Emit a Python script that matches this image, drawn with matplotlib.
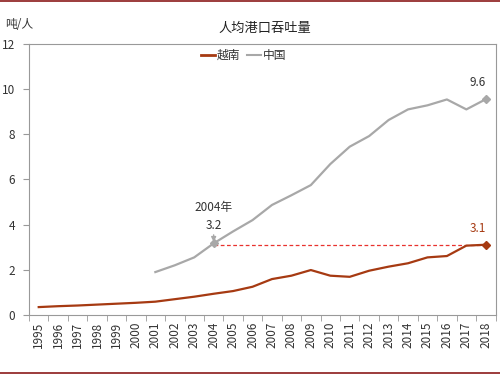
import numpy as np
import matplotlib
matplotlib.use('Agg')
import matplotlib.pyplot as plt
from matplotlib.lines import Line2D

plt.rcParams['font.family'] = ['Noto Sans CJK SC', 'DejaVu Sans']

# data
years = list(range(1995, 2019))
vietnam = [0.35, 0.39, 0.42, 0.46, 0.50, 0.54, 0.59, 0.70, 0.81, 0.94, 1.06, 1.25,
           1.59, 1.74, 1.99, 1.74, 1.69, 1.96, 2.14, 2.29, 2.55, 2.61, 3.07, 3.11]
china_years = list(range(2001, 2019))
china = [1.9, 2.2, 2.55, 3.17, 3.7, 4.2, 4.87, 5.3, 5.75, 6.68, 7.45, 7.92,
         8.63, 9.1, 9.28, 9.54, 9.1, 9.55]
yticks = [0, 2, 4, 6, 8, 10, 12]

VN_COLOR = '#A63A12'
CN_COLOR = '#A8A8A8'

fig = plt.figure(figsize=(5, 3.75), dpi=100)
ax = fig.add_axes([0.058, 0.16, 0.933, 0.723])

x_vn = np.arange(len(years))
x_cn = np.array([years.index(y) for y in china_years])

ax.plot(x_vn, vietnam, color=VN_COLOR, lw=1.6, label='越南')
ax.plot(x_cn, china, color=CN_COLOR, lw=1.6, label='中国')

# end / highlight markers
ax.plot(x_vn[-1], vietnam[-1], marker='D', ms=4, color=VN_COLOR)
ax.plot(x_cn[-1], china[-1], marker='D', ms=4, color=CN_COLOR)
i04 = china_years.index(2004)
ax.plot(x_cn[i04], china[i04], marker='D', ms=4, color=CN_COLOR)

# dashed reference line from China 2004 to Vietnam 2018
ax.plot([x_cn[i04], x_vn[-1]], [vietnam[-1], vietnam[-1]], ls=(0, (3, 2)),
        color='#E8322E', lw=0.9, zorder=1)

# labels
ax.annotate('2004年\n3.2', xy=(x_cn[i04], china[i04]),
            xytext=(x_cn[i04], china[i04] + 0.5), ha='center', va='bottom',
            fontsize=8.5, color='#333333', linespacing=1.5,
            arrowprops=dict(arrowstyle='-|>', color=CN_COLOR, lw=1,
                            shrinkA=0, shrinkB=1, mutation_scale=7))
ax.text(x_cn[-1], china[-1] + 0.45, '9.6', ha='right', va='bottom',
        fontsize=8.5, color='#333333')
ax.text(x_vn[-1], vietnam[-1] + 0.45, '3.1', ha='right', va='bottom',
        fontsize=8.5, color=VN_COLOR)

ax.set_xlim(-0.5, len(years) - 0.5)
ax.set_ylim(0, 12)
ax.set_yticks(yticks)
ax.set_yticklabels([str(v) for v in yticks], fontsize=8.5, color='#333333')
ax.set_xticks(x_vn)
ax.set_xticklabels([str(y) for y in years], rotation=90, fontsize=8.5,
                   color='#333333')
ax.set_xticks(np.arange(-0.5, len(years)), minor=True)
ax.tick_params(axis='x', which='major', length=0, pad=5)
ax.tick_params(axis='x', which='minor', length=4, color='#999999')
ax.tick_params(axis='y', length=4, color='#999999', pad=6)

for s in ax.spines.values():
    s.set_color('#999999')
    s.set_linewidth(0.8)

handles = [Line2D([], [], color=VN_COLOR, lw=2), Line2D([], [], color=CN_COLOR, lw=1.5)]
ax.legend(handles, ['越南', '中国'], loc='upper center', ncol=2, frameon=False,
          fontsize=8.5, handlelength=1.2, handletextpad=0.1, columnspacing=0.6,
          bbox_to_anchor=(0.46, 1.02), labelcolor='#333333')

fig.text(0.53, 0.925, '人均港口吞吐量', ha='center', va='center', fontsize=9.5,
         color='#222222')
fig.text(0.01, 0.935, '吨/人', ha='left', va='center', fontsize=8.5,
         color='#333333')

# dark red frame lines top and bottom
fig.add_artist(Line2D([0, 1], [0.997, 0.997], color='#8B1A1A', lw=1.2))
fig.add_artist(Line2D([0, 1], [0.005, 0.005], color='#8B1A1A', lw=1.2))

fig.savefig('out.png', dpi=100)
